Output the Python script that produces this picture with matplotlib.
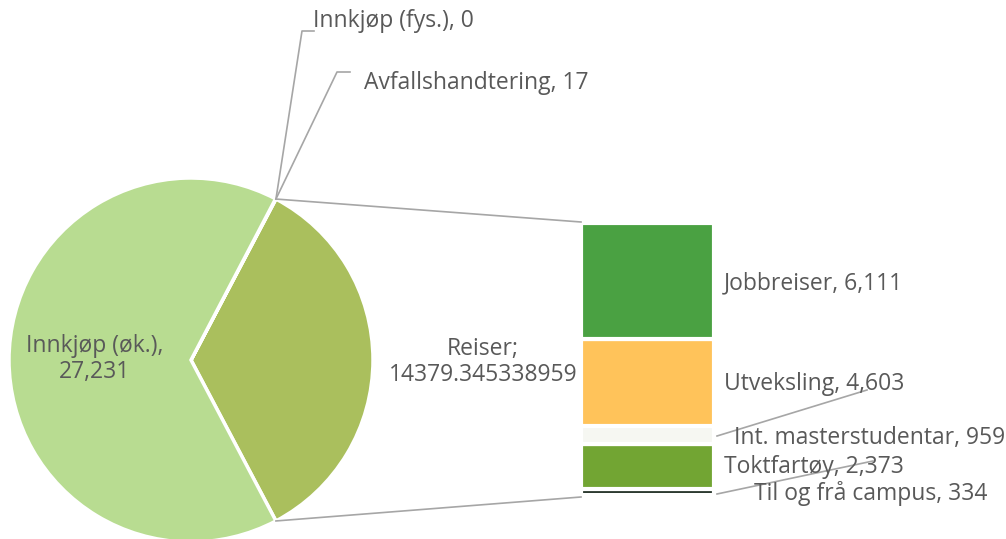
import numpy as np
import matplotlib
matplotlib.use('Agg')
from matplotlib import pyplot

# Pie values (main)
pie_names = ['Reiser', 'Avfallshandtering', 'Innkjøp (fys.)', 'Innkjøp (øk.)']
pie_values = [14379.345338959, 17, 0, 27231]
pie_cols = ['#aabf5d', '#c9c9c9', '#c9c9c9', '#b8dc91']

# Bar values (breakdown of Reiser), bottom to top
bar_names = ['Til og frå campus', 'Toktfartøy', 'Int. masterstudentar', 'Utveksling', 'Jobbreiser']
bar_values = [334, 2373, 959, 4603, 6111]
bar_cols = ['#1b2a1f', '#72a533', '#f6f7f2', '#ffc35a', '#4aa142']

W, H = 1006, 539
txtcol = '#595959'
linecol = '#a6a6a6'
pyplot.rcParams['font.family'] = ['Open Sans', 'DejaVu Sans']

f1 = pyplot.figure(figsize=(W / 100, H / 100), dpi=100)
ax0 = f1.add_axes([0, 0, 1, 1])

# Pie, in pixel units (y measured from bottom)
cx, cy, r = 191, H - 360, 182
total = sum(pie_values)
reiser_ang = pie_values[0] / total * 360
ax0.pie(pie_values, colors=pie_cols, center=(cx, cy), radius=r,
        startangle=-reiser_ang / 2, counterclock=True,
        wedgeprops=dict(edgecolor='white', linewidth=2.5), frame=True)
ax0.set_xlim(0, W)
ax0.set_ylim(0, H)
ax0.set_aspect('equal')
ax0.axis('off')

# Stacked bar
bx, bw = 581, 133
scale = 272 / sum(bar_values)
bot = 44
for v, c in zip(bar_values, bar_cols):
    ax0.bar(bx, v * scale, width=bw, bottom=bot, color=c, align='edge',
            edgecolor='white', linewidth=3)
    bot += v * scale

# Connector lines from pie to bar
a = np.deg2rad(reiser_ang / 2)
ptop = (cx + r * np.cos(a), cy + r * np.sin(a))
pbot = (cx + r * np.cos(a), cy - r * np.sin(a))
ax0.plot([ptop[0], bx], [ptop[1], bot + 1], color=linecol, lw=1.2)
ax0.plot([pbot[0], bx], [pbot[1], 44 - 2], color=linecol, lw=1.2)

fs = 16.5
# Pie labels
ax0.text(95, H - 359, 'Innkjøp (øk.),\n27,231', ha='center', va='center',
         fontsize=fs, color=txtcol, linespacing=1.12)
ax0.text(483, H - 362, 'Reiser;\n%s' % '14379.345338959', ha='center', va='center',
         fontsize=fs, color=txtcol, linespacing=1.15)

# Small slice labels with leader lines
ax0.plot([ptop[0], 302, 314], [ptop[1], H - 31, H - 31], color=linecol, lw=1.2)
ax0.text(313, H - 21, 'Innkjøp (fys.), %d' % pie_values[2], ha='left', va='center',
         fontsize=fs, color=txtcol)
ax0.plot([ptop[0], 337, 350], [ptop[1], H - 72, H - 72], color=linecol, lw=1.2)
ax0.text(364, H - 83, 'Avfallshandtering, %d' % pie_values[1], ha='left', va='center',
         fontsize=fs, color=txtcol)

# Bar labels
ax0.text(724, H - 283, 'Jobbreiser, {:,}'.format(bar_values[4]), ha='left', va='center',
         fontsize=fs, color=txtcol)
ax0.text(724, H - 384, 'Utveksling, {:,}'.format(bar_values[3]), ha='left', va='center',
         fontsize=fs, color=txtcol)
ax0.plot([717, 867], [H - 436, H - 390], color=linecol, lw=1.2)
ax0.text(734, H - 438, 'Int. masterstudentar, {:,}'.format(bar_values[2]), ha='left', va='center',
         fontsize=fs, color=txtcol)
ax0.text(724, H - 467, 'Toktfartøy, {:,}'.format(bar_values[1]), ha='left', va='center',
         fontsize=fs, color=txtcol)
ax0.plot([717, 873], [H - 494, H - 461], color=linecol, lw=1.2)
ax0.text(754, H - 494, 'Til og frå campus, {:,}'.format(bar_values[0]), ha='left', va='center',
         fontsize=fs, color=txtcol)

pyplot.savefig('out.png', dpi=100)
